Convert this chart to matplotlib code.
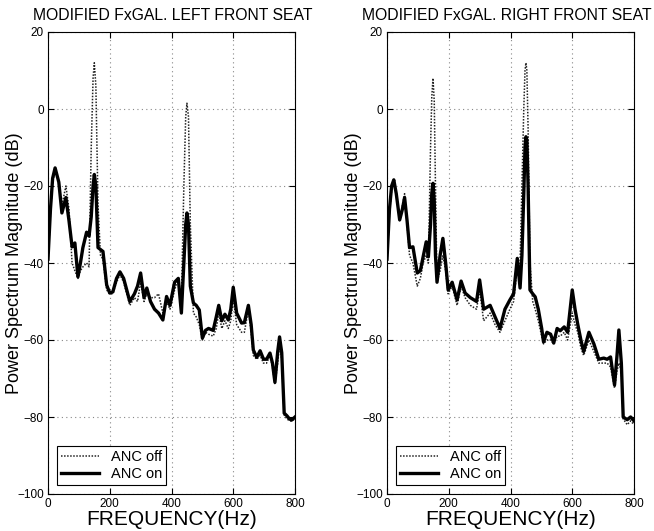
import matplotlib
matplotlib.use("Agg")
import matplotlib.pyplot as plt

plt.rcParams['font.family'] = ['Liberation Sans', 'DejaVu Sans']

titles = ["MODIFIED FxGAL. LEFT FRONT SEAT", "MODIFIED FxGAL. RIGHT FRONT SEAT"]
xlabel = "FREQUENCY(Hz)"
ylabel = "Power Spectrum Magnitude (dB)"
legend_labels = ["ANC off", "ANC on"]
xticks = [0, 200, 400, 600, 800]
yticks = [-100, -80, -60, -40, -20, 0, 20]

# Left front seat
left_freq = [0, 8, 15, 23, 35, 45, 58, 68, 78, 87, 97, 105, 113, 125, 133, 140, 146, 150, 155, 162,
             170, 178, 190, 200, 210, 222, 233, 245, 255, 265, 280, 290, 300, 311, 320, 332, 345, 358,
             372, 384, 395, 410, 422, 432, 440, 446, 450, 455, 461, 471, 480, 490, 500, 510, 520, 535,
             545, 553, 563, 573, 584, 592, 600, 611, 627, 636, 649, 658, 665, 676, 687, 698, 708, 719,
             727, 735, 744, 750, 757, 765, 774, 782, 789, 800]
left_on = [-39, -26, -18, -15.3, -19, -27, -23, -29, -35.8, -34.8, -43.6, -40, -36, -32, -33, -28, -20, -17, -20, -36,
           -36.5, -37, -45.7, -47.8, -47.5, -44, -42.3, -44, -47, -50, -48, -46, -42.6, -49, -46.5, -50, -52, -53,
           -54.8, -48.7, -51, -45, -44, -53, -40, -30, -27, -30, -46, -50.4, -51, -52.2, -59.5, -57.5, -57, -57.5,
           -54, -51, -55, -53.3, -54.8, -52, -46.3, -53, -55.6, -55.5, -51, -56, -62.6, -64.5, -62.8, -65, -65, -63.4,
           -66, -71, -63, -59.2, -63.3, -79, -79.7, -80.5, -80.8, -80]
left_off = [-40, -27, -19, -16, -19, -25, -20, -26, -40, -42, -44, -42, -41, -40, -41, -10, 8, 12, 6, -25,
            -38, -39, -47, -48, -48, -45, -43, -45, -48, -51, -49, -50, -45, -50, -48, -49, -49, -48,
            -53, -50, -52, -47, -44, -50, -20, -2, 1.5, -2, -30, -53, -54, -56, -60, -58, -58.5, -59,
            -57, -53, -57, -55, -57, -55, -49, -56, -58, -58, -52, -58, -64, -65, -64, -66, -66, -64,
            -67, -71.5, -66, -61, -65, -79.5, -80.5, -81, -81, -80.5]

# Right front seat
right_freq = [0, 8, 15, 22, 30, 41, 50, 57, 65, 73, 84, 98, 108, 117, 127, 134, 141, 145, 149, 153, 157, 162,
              172, 181, 190, 198, 211, 227, 240, 253, 270, 290, 300, 313, 334, 350, 366, 382, 398, 410, 422,
              431, 437, 443, 447, 450, 453, 457, 463, 472, 480, 490, 501, 507, 518, 530, 540, 551, 561, 574,
              585, 600, 609, 618, 628, 637, 654, 670, 686, 702, 713, 724, 737, 745, 751, 759, 765, 778, 789, 800]
right_on = [-39, -26, -20, -18.4, -22, -28.8, -26, -23, -29, -36, -35.8, -42.6, -42, -38.4, -34.5, -38.4, -30, -22,
            -19.3, -24, -38, -45, -38, -33.6, -40, -47, -45, -49.6, -44.7, -47.8, -49, -50, -44.4, -52, -51, -54,
            -57, -52, -49.6, -48, -38.8, -46.5, -38, -22, -10, -7.2, -8, -20, -47, -48, -48.8, -52, -57, -60.5,
            -58, -58.5, -60.8, -57, -57.6, -56.6, -58, -47, -52, -56, -60, -63, -58, -61, -65, -64.7, -65, -64.4,
            -71.7, -64, -57.4, -66, -80, -80.7, -80, -81]
right_off = [-40, -27, -21, -19, -22, -29, -25, -22, -30, -38, -40, -46, -44, -40, -38, -40, -10, 3,
             8, 2, -20, -45, -42, -38, -42, -48, -46, -51, -46, -49, -51, -52, -47, -55, -53, -56,
             -58, -55, -52, -50, -41, -40, -20, 0, 10, 12, 10, -5, -40, -50, -52, -55, -59, -61,
             -60, -60, -61, -59, -59, -58, -60, -53, -56, -58, -62, -64, -60, -63, -66, -66, -66, -67,
             -72.5, -68, -66, -68, -80.5, -82, -81, -82]

data = [(left_freq, left_off, left_on), (right_freq, right_off, right_on)]

fig = plt.figure(figsize=(6.54, 5.31), dpi=100)
lefts = [48 / 654, 387 / 654]
title_x = [0.504, 0.484]
for i, (f, off, on) in enumerate(data):
    ax = fig.add_axes([lefts[i], 37 / 531, 247 / 654, 462 / 531])
    ax.plot(f, off, color='#222222', linestyle=(0, (1, 1)), linewidth=1.1, label=legend_labels[0])
    ax.plot(f, on, color='black', linestyle='-', linewidth=2.4, label=legend_labels[1])
    ax.set_xlim(0, 800)
    ax.set_ylim(-100, 20)
    ax.set_xticks(xticks)
    ax.set_yticks(yticks)
    ax.grid(True, color='#888888', linestyle=(0, (1, 3)), linewidth=0.8)
    ax.tick_params(direction='in', length=4, labelsize=8.5, top=True, right=True, pad=3)
    for s in ax.spines.values():
        s.set_linewidth(0.8)
    ax.set_title(titles[i], fontsize=11.3, pad=9, x=title_x[i])
    ax.set_xlabel(xlabel, fontsize=15, labelpad=0)
    ax.set_ylabel(ylabel, fontsize=13)
    ax.yaxis.set_label_coords(-0.1, 0.5)
    leg = ax.legend(loc='lower left', fontsize=10.5, fancybox=False, edgecolor='black',
                    framealpha=1, handlelength=2.6, borderaxespad=0.6, labelspacing=0.2,
                    borderpad=0.3)
    leg.get_frame().set_linewidth(0.8)

fig.savefig("out.png", dpi=100)
